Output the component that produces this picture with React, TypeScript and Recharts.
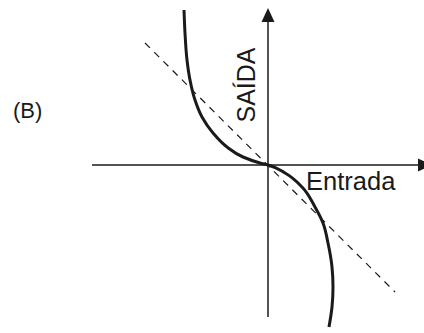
import React from 'react';
import { ComposedChart, Line, XAxis, YAxis, ReferenceLine, ReferenceDot } from 'recharts';

// Coordinates relative to the origin (Entrada = x, SAÍDA = y)
const curveX = [-84, -83, -81, -78, -73, -66, -55, -41, -25, -8, 0, 17, 34, 47, 55, 60, 64, 65, 64, 61];
const curveY = [155, 132, 105, 85, 65, 48, 32, 18, 8, 2, 0, -8, -22, -42, -58, -78, -102, -122, -142, -162];
const dashedX = [-123, 127];
const dashedY = [122, -127];
const horizontalAxisX = [-176, 164];
const verticalAxisY = [-152, 157];
const labels = ['(B)', 'SAÍDA', 'Entrada'];

const curve = curveX.map((x, i) => ({ x, y: curveY[i] }));
const dashed = dashedX.map((x, i) => ({ x, y: dashedY[i] }));

const INK = '#1a1a1a';
const FONT = '"Liberation Sans", Arial, sans-serif';

const Arrow = (props: any) => {
  const { x1, y1, x2, y2 } = props;
  const dx = x2 - x1;
  const dy = y2 - y1;
  const len = Math.sqrt(dx * dx + dy * dy) || 1;
  const ux = dx / len;
  const uy = dy / len;
  const head = 14;
  const half = 6.5;
  const bx = x2 - ux * head;
  const by = y2 - uy * head;
  const px = -uy * half;
  const py = ux * half;
  return (
    <g>
      <line x1={x1} y1={y1} x2={bx} y2={by} stroke={INK} strokeWidth={1.5} />
      <polygon points={`${x2},${y2} ${bx + px},${by + py} ${bx - px},${by - py}`} fill={INK} />
    </g>
  );
};

export default function App() {
  return (
    <div style={{ position: 'absolute', left: 0, top: 0, width: 424, height: 333, overflow: 'hidden' }}>
      <ComposedChart width={444} height={333} margin={{ top: 0, right: 0, bottom: 0, left: 0 }}>
        <XAxis type="number" dataKey="x" domain={[-268, 176]} hide allowDataOverflow />
        <YAxis type="number" dataKey="y" domain={[-168, 165]} hide allowDataOverflow />
        <ReferenceLine
          segment={[{ x: horizontalAxisX[0], y: 0 }, { x: horizontalAxisX[1], y: 0 }]}
          ifOverflow="visible"
          shape={Arrow}
        />
        <ReferenceLine
          segment={[{ x: 0, y: verticalAxisY[0] }, { x: 0, y: verticalAxisY[1] }]}
          ifOverflow="visible"
          shape={Arrow}
        />
        <Line
          data={dashed}
          dataKey="y"
          type="linear"
          stroke={INK}
          strokeWidth={1.2}
          strokeDasharray="7 6"
          dot={false}
          activeDot={false}
          isAnimationActive={false}
        />
        <Line
          data={curve}
          dataKey="y"
          type="monotoneY"
          stroke={INK}
          strokeWidth={3}
          dot={false}
          activeDot={false}
          isAnimationActive={false}
        />
        <ReferenceDot
          x={-255}
          y={47}
          ifOverflow="visible"
          shape={(p: any) => (
            <text x={p.cx} y={p.cy} fontFamily={FONT} fontSize={22} fill={INK} textAnchor="start">
              {labels[0]}
            </text>
          )}
        />
        <ReferenceDot
          x={-13}
          y={80}
          ifOverflow="visible"
          shape={(p: any) => (
            <text
              x={p.cx}
              y={p.cy}
              fontFamily={FONT}
              fontSize={25}
              fill={INK}
              textAnchor="middle"
              transform={`rotate(-90, ${p.cx}, ${p.cy})`}
            >
              {labels[1]}
            </text>
          )}
        />
        <ReferenceDot
          x={38}
          y={-25}
          ifOverflow="visible"
          shape={(p: any) => (
            <text x={p.cx} y={p.cy} fontFamily={FONT} fontSize={25.5} fill={INK} textAnchor="start">
              {labels[2]}
            </text>
          )}
        />
      </ComposedChart>
    </div>
  );
}
